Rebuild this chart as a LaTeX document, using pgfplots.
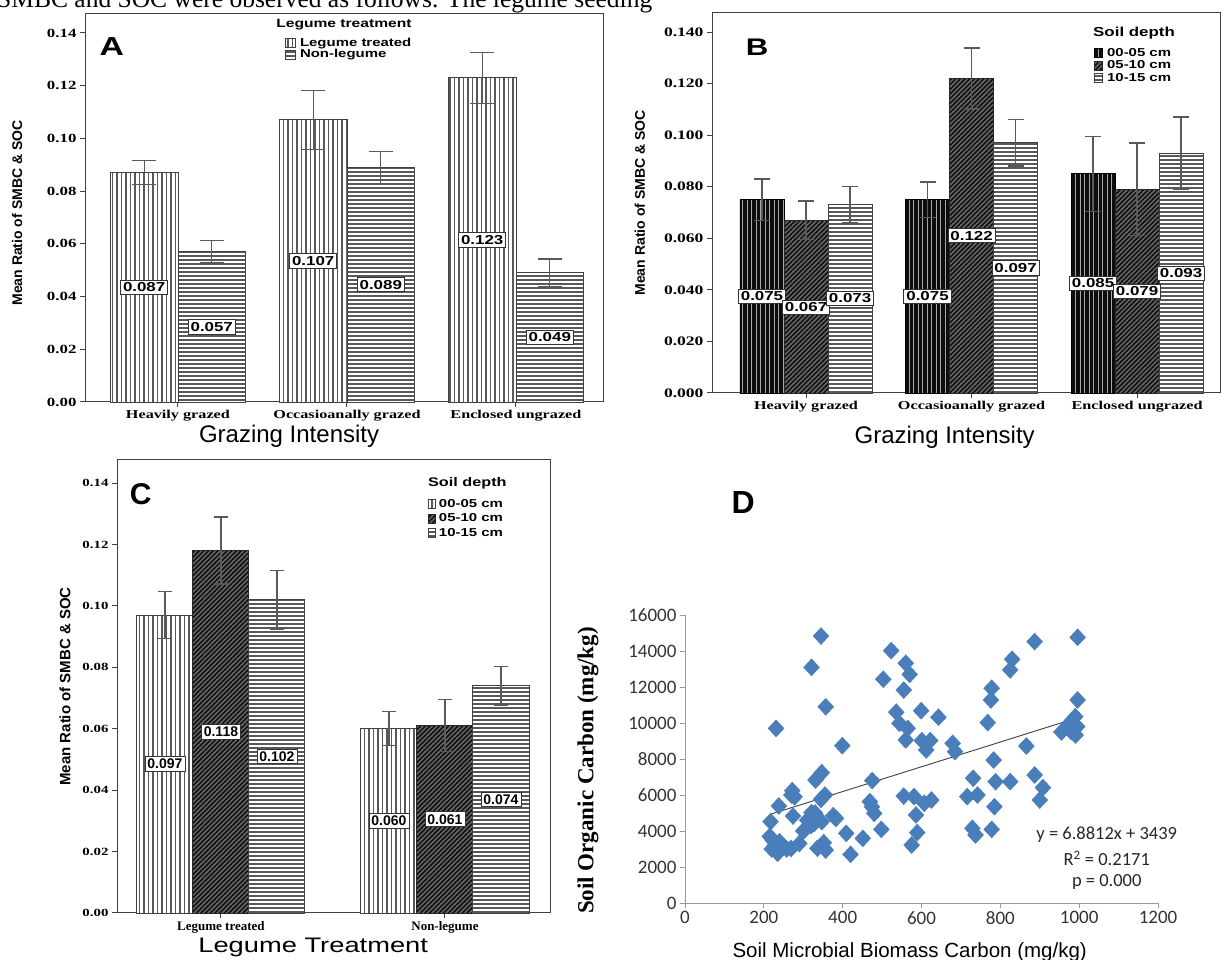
\documentclass[border=0pt]{standalone}
\usepackage{fontspec}
\setmainfont{Liberation Serif}
\setsansfont{Liberation Sans}
\newfontfamily\spsserif[FakeStretch=1.35]{Liberation Serif}
\newfontfamily\spssans[FakeStretch=1.3]{Liberation Sans}
\newfontfamily\calibri{Carlito}
\usepackage{pgfplots}
\pgfplotsset{compat=1.18}
\usetikzlibrary{patterns.meta}

\newcommand{\fs}[1]{\fontsize{#1bp}{#1bp}\selectfont}

\tikzset{
  vlines/.style={fill=white, draw=black!75, line width=0.9bp,
    postaction={pattern={Lines[angle=90,distance=4.5bp,line width=1.1bp]}, pattern color=black!65}},
  hlines/.style={fill=white, draw=black!75, line width=0.9bp,
    postaction={pattern={Lines[angle=0,distance=4bp,line width=1.1bp]}, pattern color=black!65}},
  dlines/.style={fill=black!60, draw=black!85, line width=0.9bp,
    postaction={pattern={Lines[angle=45,distance=3.3bp,line width=1.5bp]}, pattern color=black!95}},
  vdark/.style={fill=black!95, draw=black, line width=0.9bp,
    postaction={pattern={Lines[angle=90,distance=4.5bp,line width=0.9bp]}, pattern color=black!35}},
  vallab/.style={draw=black!80, fill=white, line width=0.8bp, inner sep=2.5bp, anchor=center},
}

\pgfplotsset{
  spss/.style={
    scale only axis, clip=false, ymin=0,
    axis line style={draw=black!75, line width=1bp},
    tick style={draw=black!75, line width=1bp},
    tick align=outside, major tick length=5bp,
    xtick pos=bottom, ytick pos=left,
    /pgf/number format/assume math mode=true,
    yticklabel style={/pgf/number format/fixed, /pgf/number format/fixed zerofill,
      /pgf/number format/precision=2},
    legend image code/.code={\draw[##1] (0bp,-4.5bp) rectangle (10bp,4.5bp);},
    legend cell align=left,
  },
  smallpatch/.style={legend image code/.code={\draw[##1] (0bp,-4.5bp) rectangle (#1,4.5bp);}},
  ebars/.style={ybar, bar shift=0, error bars/.cd, y dir=both, y explicit,
    error bar style={draw=black!65, line width=1.3bp},
    error mark options={rotate=90, mark size=#1, line width=1.3bp, draw=black!65}},
}

\begin{document}
\begin{tikzpicture}[x=1bp, y=1bp]
\useasboundingbox (0,0) rectangle (1223,960);
\clip (0,0) rectangle (1223,960);

\node[anchor=base west, font=\fs{25.5}, inner sep=0pt] at (-3,952)
  {SMBC and SOC were observed as follows. The legume seeding};

% ---------- A ----------
\begin{axis}[spss,
  at={(85bp,558bp)}, anchor=south west, width=518bp, height=388bp,
  xmin=-0.55, xmax=2.515, ymax=0.1472,
  ytick={0,0.02,0.04,0.06,0.08,0.10,0.12,0.14},
  xtick={0,1,2}, xticklabels={Heavily grazed,Occasioanally grazed,Enclosed ungrazed},
  yticklabel style={font=\spsserif\bfseries\fs{12.5}},
  xticklabel style={font=\spsserif\bfseries\fs{12}},
  ylabel={Mean Ratio of SMBC \& SOC},
  ylabel style={font=\sffamily\bfseries\fs{14}, at={(axis description cs:-0.131,0.487)}, anchor=center},
  xlabel={Grazing Intensity},
  xlabel style={font=\sffamily\fs{24}, at={(axis description cs:0.394,-0.088)}, anchor=center},
  legend style={at={(0.386,0.943)}, anchor=north west, draw=none, fill=none,
    font=\spssans\bfseries\fs{11.5}, row sep=-2.5bp, inner sep=0bp, column sep=2bp},
]
\addplot[bar width=0.4, vlines, ebars=12bp] coordinates {
  (-0.2,0.087) +- (0,0.0046) (0.8,0.107) +- (0,0.0112) (1.8,0.123) +- (0,0.0097)};
\addplot[bar width=0.4, hlines, ebars=12bp] coordinates {
  (0.2,0.057) +- (0,0.0042) (1.2,0.089) +- (0,0.0061) (2.2,0.049) +- (0,0.0053)};
\legend{Legume treated, Non-legume}
\addplot[draw=none, forget plot, nodes near coords, point meta=explicit symbolic,
  every node near coord/.append style={vallab, font=\spssans\bfseries\fs{13}}]
  coordinates {(-0.2,0.0435)[0.087] (0.2,0.0285)[0.057] (0.8,0.0535)[0.107]
               (1.2,0.0445)[0.089] (1.8,0.0615)[0.123] (2.2,0.0245)[0.049]};
\node[font=\spssans\bfseries\fs{12}, anchor=west, inner sep=0pt] at (rel axis cs:0.369,0.972) {Legume treatment};
\node[font=\spssans\bfseries\fs{26}] at (rel axis cs:0.052,0.915) {A};
\end{axis}

% ---------- B ----------
\begin{axis}[spss, smallpatch=8bp,
  at={(712bp,567bp)}, anchor=south west, width=508bp, height=380bp,
  xmin=-0.568, xmax=2.501, ymax=0.1474,
  ytick={0,0.02,0.04,0.06,0.08,0.10,0.12,0.14},
  yticklabel style={/pgf/number format/precision=3, font=\spsserif\bfseries\fs{13}},
  xtick={0,1,2}, xticklabels={Heavily grazed,Occasioanally grazed,Enclosed ungrazed},
  xticklabel style={font=\spsserif\bfseries\fs{12}},
  ylabel={Mean Ratio of SMBC \& SOC},
  ylabel style={font=\sffamily\bfseries\fs{14}, at={(axis description cs:-0.142,0.5)}, anchor=center},
  xlabel={Grazing Intensity},
  xlabel style={font=\sffamily\fs{24}, at={(axis description cs:0.458,-0.116)}, anchor=center},
  legend style={at={(0.752,0.913)}, anchor=north west, draw=none, fill=none,
    font=\spssans\bfseries\fs{11.5}, row sep=-1bp, inner sep=0bp, column sep=2bp},
]
\addplot[bar width=0.266, vdark, ebars=8bp] coordinates {
  (-0.266,0.075) +- (0,0.0080) (0.734,0.075) +- (0,0.0068) (1.734,0.085) +- (0,0.0145)};
\addplot[bar width=0.266, dlines, ebars=8bp] coordinates {
  (0,0.067) +- (0,0.0075) (1,0.122) +- (0,0.0118) (2,0.079) +- (0,0.0180)};
\addplot[bar width=0.266, hlines, ebars=8bp] coordinates {
  (0.266,0.073) +- (0,0.0070) (1.266,0.097) +- (0,0.0090) (2.266,0.093) +- (0,0.0140)};
\legend{00-05 cm, 05-10 cm, 10-15 cm}
\addplot[draw=none, forget plot, nodes near coords, point meta=explicit symbolic,
  every node near coord/.append style={vallab, font=\spssans\bfseries\fs{13}}]
  coordinates {(-0.266,0.0376)[0.075] (0,0.0333)[0.067] (0.266,0.0367)[0.073]
               (0.734,0.0376)[0.075] (1,0.061)[0.122] (1.266,0.0485)[0.097]
               (1.734,0.0425)[0.085] (2,0.0395)[0.079] (2.266,0.0465)[0.093]};
\node[font=\spssans\bfseries\fs{13}, anchor=west, inner sep=0pt] at (rel axis cs:0.75,0.947) {Soil depth};
\node[font=\spssans\bfseries\fs{24}] at (rel axis cs:0.089,0.911) {B};
\end{axis}

% ---------- C ----------
\begin{axis}[spss, smallpatch=7bp,
  at={(117bp,47bp)}, anchor=south west, width=433bp, height=453bp,
  xmin=-0.464, xmax=1.469, ymax=0.1475,
  ytick={0,0.02,0.04,0.06,0.08,0.10,0.12,0.14},
  yticklabel style={font=\spsserif\bfseries\fs{11}},
  xtick={0,1}, xticklabels={Legume treated,Non-legume},
  xticklabel style={font=\bfseries\fs{13}},
  ylabel={Mean Ratio of SMBC \& SOC},
  ylabel style={font=\sffamily\bfseries\fs{15}, at={(axis description cs:-0.12,0.5)}, anchor=center},
  xlabel={Legume Treatment},
  xlabel style={font=\spssans\fs{21}, at={(axis description cs:0.453,-0.077)}, anchor=center},
  legend style={at={(0.718,0.918)}, anchor=north west, draw=none, fill=none,
    font=\spssans\bfseries\fs{11.5}, row sep=1bp, inner sep=0bp, column sep=1bp},
]
\addplot[bar width=0.25, vlines, ebars=7bp] coordinates {
  (-0.25,0.097) +- (0,0.0077) (0.75,0.060) +- (0,0.0055)};
\addplot[bar width=0.25, dlines, ebars=7bp] coordinates {
  (0,0.118) +- (0,0.0109) (1,0.061) +- (0,0.0085)};
\addplot[bar width=0.25, hlines, ebars=7bp] coordinates {
  (0.25,0.102) +- (0,0.0095) (1.25,0.074) +- (0,0.0063)};
\legend{00-05 cm, 05-10 cm, 10-15 cm}
\addplot[draw=none, forget plot, nodes near coords, point meta=explicit symbolic,
  every node near coord/.append style={vallab, font=\sffamily\bfseries\fs{14}}]
  coordinates {(-0.25,0.0485)[0.097] (0,0.059)[0.118] (0.25,0.051)[0.102]
               (0.75,0.030)[0.060] (1,0.0305)[0.061] (1.25,0.037)[0.074]};
\node[font=\spssans\bfseries\fs{12.5}, anchor=west, inner sep=0pt] at (rel axis cs:0.718,0.949) {Soil depth};
\node[font=\sffamily\bfseries\fs{30}] at (rel axis cs:0.055,0.925) {C};
\end{axis}

% ---------- D ----------
\pgfplotstableread{
x y
217 4520
231 9700
238 5390
215 3700
222 3500
232 3300
240 3400
220 3000
235 2760
248 3130
228 3200
258 3000
272 6240
278 5900
274 4830
269 3030
290 3300
303 4050
321 5020
321 13090
328 4430
331 6830
347 7240
345 14830
357 10900
345 5760
355 6000
347 4520
336 3040
357 2940
352 3350
376 4850
383 4700
399 8740
409 3870
420 2700
451 3590
475 6800
469 5630
474 5350
480 4980
498 4090
503 12430
523 14020
536 10600
555 11830
560 13320
570 12700
544 9980
565 9700
560 9060
555 5940
581 5910
575 3220
586 4890
589 3910
599 10680
601 9020
612 8500
622 9020
625 5720
607 5540
643 10320
679 8870
685 8410
716 5910
731 6930
729 4150
737 3780
742 6000
768 10020
776 11280
778 11930
783 7940
788 6740
785 5350
778 4090
825 6740
825 12950
830 13540
866 8720
887 14520
887 7110
908 6410
900 5720
955 9500
975 9980
980 9520
996 14760
996 11280
991 9330
995 9800
990 10350
270 6000
300 4000
310 4600
320 4300
330 5000
}\scatterD
\begin{axis}[
  at={(685bp,57bp)}, anchor=south west, scale only axis, clip=false,
  width=473bp, height=288bp,
  xmin=0, xmax=1200, ymin=0, ymax=16000,
  axis x line*=bottom, axis y line*=left,
  axis line style={draw=black!40, line width=0.8bp},
  tick style={draw=black!40, line width=0.8bp}, tick align=outside, major tick length=5bp,
  xtick={0,200,400,600,800,1000,1200},
  ytick={0,2000,4000,6000,8000,10000,12000,14000,16000},
  scaled ticks=false,
  /pgf/number format/1000 sep={},
  /pgf/number format/assume math mode=true,
  tick label style={font=\calibri\fs{19}, text=black!80},
  xlabel={Soil Microbial Biomass Carbon (mg/kg)},
  xlabel style={font=\sffamily\fs{20.5}, at={(axis description cs:0.475,-0.17)}, anchor=center},
  ylabel={Soil Organic Carbon (mg/kg)},
  ylabel style={font=\bfseries\fs{23}, at={(axis description cs:-0.205,0.46)}, anchor=center},
]
\addplot[only marks, mark=diamond*, mark size=8.5bp,
  mark options={draw=none, xscale=1.25},
  color={rgb,255:red,74;green,126;blue,187}] table {\scatterD};
\addplot[black!75, line width=0.9bp] coordinates {(215,4918) (993,10272)};
\node[font=\calibri\fs{18.5}, text=black!85] at (axis cs:1070,3780) {y = 6.8812x + 3439};
\node[font=\calibri\fs{18.5}, text=black!85] at (axis cs:1070,2500) {R\textsuperscript{2} = 0.2171};
\node[font=\calibri\fs{18.5}, text=black!85] at (axis cs:1070,1170) {p = 0.000};
\node[font=\sffamily\bfseries\fs{32}] at (axis description cs:0.123,1.389) {D};
\end{axis}
\end{tikzpicture}
\end{document}
